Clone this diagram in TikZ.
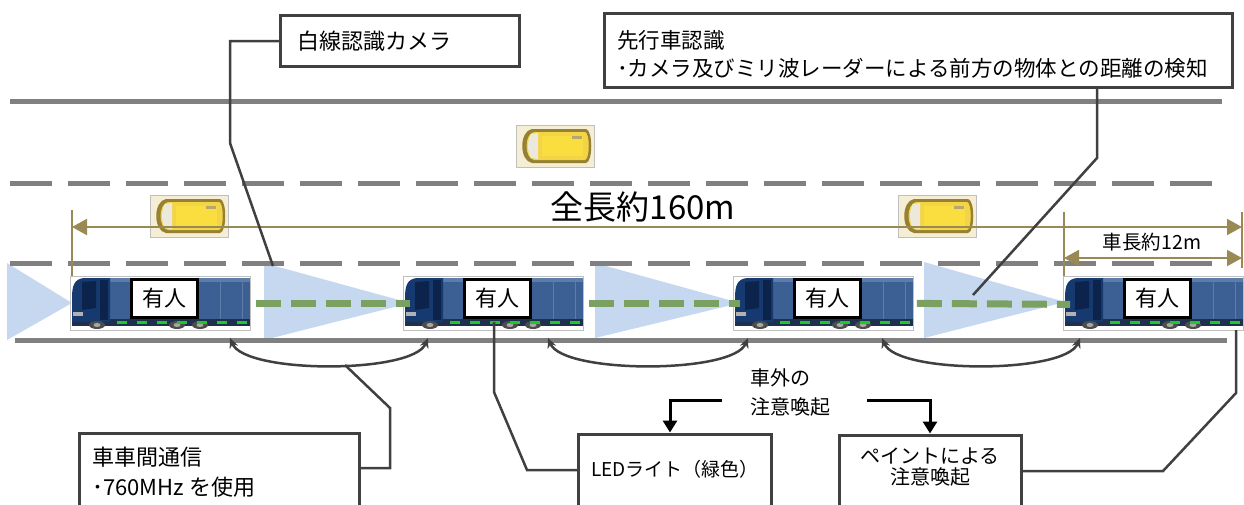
\documentclass[tikz,border=0pt]{standalone}
\usepackage{fontspec}
\setmainfont{Noto Sans CJK JP}
\usetikzlibrary{arrows.meta,calc}

\definecolor{roadgray}{RGB}{128,128,128}
\definecolor{dimolive}{RGB}{152,138,82}
\definecolor{conefill}{RGB}{198,216,240}
\definecolor{linkgreen}{RGB}{122,160,98}
\definecolor{wiregray}{RGB}{64,64,64}
\definecolor{ledgreen}{RGB}{30,200,40}
\definecolor{cargoblue}{RGB}{60,95,148}
\definecolor{cargopanel}{RGB}{92,124,170}
\definecolor{cabblue}{RGB}{22,58,112}
\definecolor{cabshade}{RGB}{12,36,76}
\definecolor{chassisblue}{RGB}{30,48,78}
\definecolor{caryellow}{RGB}{242,212,70}
\definecolor{carroof}{RGB}{250,222,64}
\definecolor{caredge}{RGB}{150,128,50}
\definecolor{carbg}{RGB}{246,238,212}
\definecolor{carglass}{RGB}{236,232,220}

\tikzset{
  roadline/.style={roadgray, line width=5pt},
  roaddash/.style={roadgray, line width=5pt, dash pattern=on 42pt off 16pt},
  dimline/.style={dimolive, line width=2pt},
  dimarrows/.style={dimline, {Triangle[length=15pt,width=16pt]}-{Triangle[length=15pt,width=16pt]}},
  cone/.style={fill=conefill},
  link/.style={linkgreen, line width=7pt, dash pattern=on 25pt off 10pt},
  wire/.style={wiregray, line width=2.5pt},
  commarc/.style={wire, {Stealth[length=10pt,width=9pt]}-{Stealth[length=10pt,width=9pt]}},
  callout/.style={draw=wiregray, line width=3pt, fill=white, inner sep=0pt},
  truckframe/.style={draw=black!25, line width=0.8pt, fill=white, minimum width=180pt, minimum height=54pt, inner sep=0pt},
  labelbox/.style={draw=black, line width=3pt, fill=white, minimum width=66pt, minimum height=38pt, inner sep=0pt, font=\fontsize{22pt}{26pt}\selectfont},
  plain/.style={inner sep=0pt, align=left},
  notice/.style={black, line width=3pt, -{Triangle[length=12pt,width=14pt]}},
}

% a small yellow car seen from above, front to the left
\newcommand\drawcar[1]{%
  \begin{scope}[shift={#1}]
    \fill[carbg] (0,0) rectangle (78,42);
    \draw[black!25, line width=0.8pt] (0,0) rectangle (78,42);
    \fill[caredge] (16,4) .. controls (3,6) and (3,36) .. (16,38) -- (70,38) .. controls (77,37) and (77,5) .. (70,4) -- cycle;
    \fill[caryellow] (18,7) .. controls (8,9) and (8,33) .. (18,35) -- (69,35) .. controls (74,34) and (74,8) .. (69,7) -- cycle;
    \fill[carglass] (15,9) .. controls (11,15) and (11,27) .. (15,33) -- (22,34) -- (22,8) -- cycle;
    \fill[carroof] (26,11) rectangle (67,31);
    \fill[caredge!70] (56,11) rectangle (66,14);
  \end{scope}}

% a blue truck seen from the side, cab to the left, with its sign
\newcommand\drawtruck[2]{%
  \begin{scope}[shift={(#2,276)}]
    \node[truckframe, anchor=north west] (#1) at (0,0) {};
    \fill[cargoblue] (38,2) rectangle (180,47);
    \fill[cargopanel] (38,2) rectangle (180,6);
    \foreach \u in {62,96,150,172} \draw[cargopanel, line width=1pt] (\u,6) -- (\u,44);
    \fill[chassisblue] (2,43) rectangle (180,50);
    \fill[cabblue] (14,2) .. controls (4,3) and (2,10) .. (2,22) -- (2,46) -- (40,46) -- (40,2) -- cycle;
    \fill[cabshade] (12,6) -- (26,5) -- (26,32) -- (12,34) -- cycle;
    \fill[cabshade] (30,4) rectangle (38,44);
    \fill[gray!60] (3,36) rectangle (13,40);
    \foreach \u in {27,107,130} {\fill[black!70] (\u,49) ellipse (8pt and 4pt); \fill[gray!70] (\u,49) ellipse (3.5pt and 2pt);}
    \draw[ledgreen, line width=3pt, dash pattern=on 10pt off 10pt] (47,46) -- (180,46);
    \node[labelbox] (#1lab) at (94.5,22) {有人};
  \end{scope}}

\begin{document}
\begin{tikzpicture}[x=1pt,y=-1pt]
\useasboundingbox (0,0) rectangle (1244,504);
\clip (0,0) rectangle (1244,504);

% sensor cones in front of each truck
\fill[cone] (7,263) -- (7,340) -- (72,303) -- cycle;
\fill[cone] (264,263) -- (264,340) -- (410,303) -- cycle;
\fill[cone] (595,263) -- (595,338) -- (740,303) -- cycle;
\fill[cone] (924,262) -- (924,338) -- (1065,302) -- cycle;

% road edges and lane markings
\draw[roadline] (10,101) -- (1222,101);
\draw[roaddash] (10,183) -- (1213,183);
\draw[roaddash] (10,263) -- (1213,263);
\draw[roadline] (15,340) -- (1227,340);

% other traffic
\drawcar{(516,125)}
\drawcar{(150,195)}
\drawcar{(898,195)}

% overall length of the platoon and length of one truck
\coordinate (lenL) at (72,227);
\coordinate (lenR) at (1242,227);
\coordinate (oneL) at (1064,258);
\coordinate (oneR) at (1242,258);
\draw[dimline] (72,210) -- (72,276);
\draw[dimline] (1064,212) -- (1064,276);
\draw[dimline] (1242,212) -- (1242,268);
\draw[dimarrows] (lenL) -- (lenR);
\draw[dimarrows] (oneL) -- (oneR);
\node[plain, font=\fontsize{33pt}{38pt}\selectfont] (totalLen) at (643,207) {全長約160m};
\node[plain, font=\fontsize{19.5pt}{23pt}\selectfont] (truckLen) at (1152,242) {車長約12m};

% the four trucks
\drawtruck{truckA}{70}
\drawtruck{truckB}{403}
\drawtruck{truckC}{733}
\drawtruck{truckD}{1063}

% following-distance links between trucks
\draw[link] ([xshift=5pt]truckA.east) -- ([xshift=7pt]truckB.west);
\draw[link] ([xshift=5pt]truckB.east) -- ([xshift=7pt]truckC.west);
\draw[link] ([xshift=3pt]truckC.east) -- ([xshift=7pt,yshift=-1pt]truckD.west);

% vehicle-to-vehicle communication arcs
\coordinate (a1L) at (230,338); \coordinate (a1R) at (428,338);
\coordinate (a2L) at (548,338); \coordinate (a2R) at (748,338);
\coordinate (a3L) at (882,338); \coordinate (a3R) at (1080,338);
\draw[commarc] (a1L) .. controls (245,374) and (413,374) .. (a1R);
\draw[commarc] (a2L) .. controls (563,374) and (733,374) .. (a2R);
\draw[commarc] (a3L) .. controls (897,374) and (1065,374) .. (a3R);

% callout: lane camera
\node[callout, minimum width=239pt, minimum height=51pt] (camBox) at (400,41) {};
\node[plain, anchor=west, font=\fontsize{22pt}{26pt}\selectfont] (camText) at (297,41) {白線認識カメラ};
\coordinate (cb1) at (230,143);
\coordinate (camEnd) at (273,266);
\draw[wire] (camBox.west) -| (cb1) -- (camEnd);

% callout: preceding vehicle detection
\node[callout, minimum width=628pt, minimum height=74pt] (seeBox) at (918.5,50.5) {};
\node[plain, anchor=west, font=\fontsize{21.5pt}{28pt}\selectfont] (seeText) at (617,54) {先行車認識\\･カメラ及びミリ波レーダーによる前方の物体との距離の検知};
\coordinate (sb1) at (1097,158);
\coordinate (seeEnd) at (973,295);
\draw[wire] (seeBox.south -| sb1) -- (sb1) -- (seeEnd);

% callout: vehicle-to-vehicle communication
\node[callout, minimum width=280pt, minimum height=77pt] (v2vBox) at (219.5,472) {};
\node[plain, anchor=west, font=\fontsize{22pt}{30pt}\selectfont] (v2vText) at (92,472) {車車間通信\\･760MHz を使用};
\coordinate (vb1) at (390,468);
\coordinate (vb2) at (390,408);
\coordinate (v2vEnd) at (345,365);
\draw[wire] (v2vBox.east |- vb1) -- (vb1) -- (vb2) -- (v2vEnd);

% callout: LED light
\node[callout, minimum width=193pt, minimum height=76pt] (ledBox) at (675,472) {};
\node[plain, font=\fontsize{19pt}{23pt}\selectfont] (ledText) at (675,469) {LEDライト（緑色）};
\coordinate (lb1) at (527,470);
\coordinate (lb2) at (494,392);
\coordinate (ledEnd) at (494,322);
\draw[wire] (ledBox.west |- lb1) -- (lb1) -- (lb2) -- (ledEnd);

% callout: warning paint
\node[callout, minimum width=182pt, minimum height=76pt] (paintBox) at (930.5,473) {};
\node[plain, align=center, font=\fontsize{20pt}{20.5pt}\selectfont] (paintText) at (930,467) {ペイントによる\\注意喚起};
\coordinate (pb1) at (1163,471);
\coordinate (pb2) at (1236,393);
\coordinate (paintEnd) at (1236,330);
\draw[wire] (paintBox.east |- pb1) -- (pb1) -- (pb2) -- (paintEnd);

% external warning, split to both measures
\node[plain, anchor=west, font=\fontsize{20pt}{29pt}\selectfont] (warn) at (750,392) {車外の\\注意喚起};
\coordinate (wl) at (722,400);
\coordinate (wr) at (867,400);
\draw[notice] (wl) -| ([xshift=-5pt]ledBox.north);
\draw[notice] (wr) -| ([xshift=-0.5pt]paintBox.north);
\end{tikzpicture}
\end{document}
